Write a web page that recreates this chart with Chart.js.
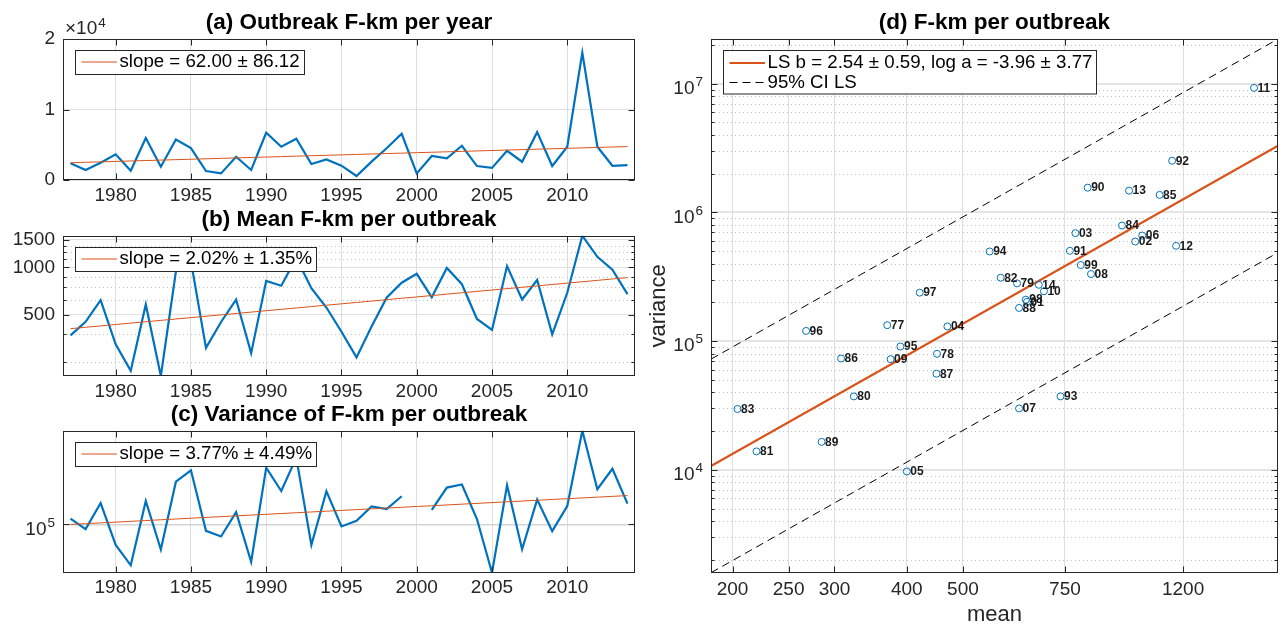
<!DOCTYPE html>
<html>
<head>
<meta charset="utf-8">
<script src="https://cdn.jsdelivr.net/npm/chart.js@4.4.1/dist/chart.umd.min.js"></script>
<style>
  html, body { margin: 0; padding: 0; background: #fff; }
  #wrap { position: relative; width: 1283px; height: 626px; overflow: hidden; background: #fff; }
  canvas { position: absolute; }
</style>
</head>
<body>
<div id="wrap">
  <canvas id="cA" width="640" height="205" style="left:0px;top:0px"></canvas>
  <canvas id="cB" width="640" height="200" style="left:0px;top:200px"></canvas>
  <canvas id="cC" width="640" height="226" style="left:0px;top:400px"></canvas>
  <canvas id="cD" width="643" height="626" style="left:640px;top:0px"></canvas>
</div>
<script>
// ---- data: tornado outbreak F-km statistics, 1977-2014 ----
const years = [1977, 1978, 1979, 1980, 1981, 1982, 1983, 1984, 1985, 1986,
               1987, 1988, 1989, 1990, 1991, 1992, 1993, 1994, 1995, 1996,
               1997, 1998, 1999, 2000, 2001, 2002, 2003, 2004, 2005, 2006,
               2007, 2008, 2009, 2010, 2011, 2012, 2013, 2014];

// total outbreak F-km in each year
const totalFkm = [2380, 1420, 2450, 3650, 1320, 5950, 1880, 5750, 4520, 1270,
                  940, 3300, 1420, 6700, 4720, 5850, 2260, 2920, 2030, 570,
                  2600, 4500, 6560, 940, 3400, 3070, 4860, 1980, 1720, 4140,
                  2590, 6790, 1980, 4720, 18060, 4720, 2020, 2120];

// mean F-km per outbreak in each year
const meanFkm = [370, 451, 620, 324, 220, 581, 204, 941, 1093, 308,
                 450, 625, 285, 821, 765, 1149, 737, 556, 390, 268,
                 421, 642, 799, 910, 645, 992, 782, 470, 400, 1020,
                 625, 832, 375, 690, 1591, 1167, 968, 676];

// variance of F-km per outbreak (undefined in 2000)
const varFkm = [1.33e5, 7.97e4, 2.81e5, 3.72e4, 1.39e4, 3.11e5, 2.97e4, 7.9e5, 1.367e6, 7.33e4,
                5.58e4, 1.81e5, 1.65e4, 1.556e6, 5.03e5, 2.52e6, 3.72e4, 4.97e5, 9.08e4, 1.2e5,
                2.38e5, 2.1e5, 3.9e5, null, 2.02e5, 5.94e5, 6.9e5, 1.3e5, 9.72e3, 6.61e5,
                3.0e4, 3.32e5, 7.24e4, 2.44e5, 9.27e6, 5.5e5, 1.476e6, 2.74e5];

// tick labels
const yearTicks = [1980, 1985, 1990, 1995, 2000, 2005, 2010];
const totalTicks = [0, 10000, 20000];
const meanTicks = [500, 1000, 1500];
const meanMinorTicks = [250, 375, 625, 750, 875, 1125, 1250, 1375];
const varExpTicksC = [5];
const meanTicksD = [200, 250, 300, 400, 500, 750, 1200];
const varExpTicksD = [4, 5, 6, 7];

// fitted trends
const slopeTotal = 62.00, slopeTotalErr = 86.12, totalTrend1977 = 2450;
const rateMean = 0.0202, rateMeanErr = 0.0135, meanTrend1977 = 408;
const rateVar = 0.0377, rateVarErr = 0.0449, varTrend1977 = 1.0e5;
// least squares fit  ln(variance) = log a + b ln(mean), with 95% band half-width (ln units)
const lsB = 2.54, lsBErr = 0.59, lsLogA = -3.96, lsLogAErr = 3.77, ciHalfLn = 1.91;

// ---- styling ----
const FONT = '"Liberation Sans", Arial, Helvetica, sans-serif';
const INK = '#262626';
const GRID = '#DFDFDF';
const MINOR_GRID = '#C4C4C4';
const BLUE = '#0072BD';
const RED = '#D95319';

function px(v) { return Math.round(v) + 0.5; }
function strokeLine(ctx, x1, y1, x2, y2) {
  ctx.beginPath(); ctx.moveTo(x1, y1); ctx.lineTo(x2, y2); ctx.stroke();
}

// "10" with a raised exponent, right aligned at rightX and centred on y
function drawPowerLabel(ctx, rightX, y, exp) {
  ctx.save();
  ctx.fillStyle = INK;
  ctx.textAlign = 'left';
  ctx.textBaseline = 'alphabetic';
  ctx.font = '13.5px ' + FONT;
  const ew = ctx.measureText(String(exp)).width;
  ctx.font = '19px ' + FONT;
  const bw = ctx.measureText('10').width;
  const x0 = rightX - ew - bw - 1;
  ctx.fillText('10', x0, y + 10.3);
  ctx.font = '13.5px ' + FONT;
  ctx.fillText(String(exp), x0 + bw + 1, y + 2.3);
  ctx.restore();
}

function drawLegend(ctx, area, lg) {
  ctx.save();
  ctx.font = lg.size + 'px ' + FONT;
  let tw = 0;
  lg.rows.forEach(r => { tw = Math.max(tw, ctx.measureText(r.text).width); });
  const x = Math.round(area.left + 12), y = Math.round(area.top + 11);
  const pitch = 19.5;
  const h = 24 + (lg.rows.length - 1) * pitch;
  const w = Math.round(44.5 + tw + 4);
  ctx.fillStyle = '#fff';
  ctx.fillRect(x, y, w, h);
  ctx.strokeStyle = INK; ctx.lineWidth = 1;
  ctx.strokeRect(x + 0.5, y + 0.5, w, h);
  lg.rows.forEach((r, i) => {
    const cy = y + 12 + (lg.rows.length > 1 ? 1 : 0) + i * pitch;
    ctx.strokeStyle = r.color; ctx.lineWidth = r.width;
    ctx.setLineDash(r.dash || []);
    strokeLine(ctx, x + 6.5, cy, x + 42, cy);
    ctx.setLineDash([]);
    ctx.fillStyle = '#000';
    ctx.textAlign = 'left'; ctx.textBaseline = 'middle';
    ctx.fillText(r.text, x + 44.5, cy);
  });
  ctx.restore();
}

// axes box, inward ticks, minor grid, title, legend
function makeFrame(p) {
  return {
    id: 'frame',
    beforeDatasetsDraw(chart) {
      const { ctx, chartArea: a } = chart;
      const ys = chart.scales.y;
      if (p.yMinor && p.yMinor.length) {
        ctx.save();
        ctx.strokeStyle = MINOR_GRID; ctx.lineWidth = 1; ctx.setLineDash([1, 3]);
        p.yMinor.forEach(v => {
          const y = px(ys.getPixelForValue(v));
          strokeLine(ctx, a.left, y, a.right, y);
        });
        ctx.restore();
      }
    },
    afterDatasetsDraw(chart) {
      if (p.pointLabels) p.pointLabels(chart);
    },
    afterDraw(chart) {
      const { ctx, chartArea: a } = chart;
      const xs = chart.scales.x, ys = chart.scales.y;
      ctx.save();
      ctx.strokeStyle = INK; ctx.lineWidth = 1;
      const L = Math.round(a.left) + 0.5, R = Math.round(a.right) - 0.5;
      const T = Math.round(a.top) + 0.5, B = Math.round(a.bottom) - 0.5;
      ctx.strokeRect(L, T, R - L, B - T);
      p.xTicks.forEach(v => {
        const x = px(xs.getPixelForValue(v));
        strokeLine(ctx, x, B, x, B - p.tick);
        strokeLine(ctx, x, T, x, T + p.tick);
      });
      p.yTicks.forEach(v => {
        const y = px(ys.getPixelForValue(v));
        strokeLine(ctx, L, y, L + p.tick, y);
        strokeLine(ctx, R, y, R - p.tick, y);
      });
      (p.yMinor || []).forEach(v => {
        const y = px(ys.getPixelForValue(v));
        strokeLine(ctx, L, y, L + p.minorTick, y);
        strokeLine(ctx, R, y, R - p.minorTick, y);
      });
      ctx.fillStyle = '#000';
      ctx.font = 'bold 22.5px ' + FONT;
      ctx.textAlign = 'center'; ctx.textBaseline = 'alphabetic';
      ctx.fillText(p.title, (a.left + a.right) / 2, a.top - 10);
      if (p.powerTicks) {
        p.powerTicks.forEach(e => drawPowerLabel(ctx, a.left - 8, ys.getPixelForValue(Math.pow(10, e)), e));
      }
      if (p.extra) p.extra(chart);
      drawLegend(ctx, a, p.legend);
      ctx.restore();
    }
  };
}

function yearAxis(h) {
  return {
    type: 'linear', bounds: 'data', min: 1976.5, max: 2014.5,
    afterBuildTicks: s => { s.ticks = yearTicks.map(v => ({ value: v })); },
    afterFit: s => { s.height = h; },
    ticks: { callback: v => String(v), font: { family: FONT, size: 19 }, color: INK,
             padding: 4, maxRotation: 0, autoSkip: false },
    grid: { color: GRID, lineWidth: 1, drawTicks: false },
    border: { display: false }
  };
}

const baseOptions = {
  responsive: false, maintainAspectRatio: false, animation: false, devicePixelRatio: 1,
  events: [],
  plugins: { legend: { display: false }, tooltip: { enabled: false }, title: { display: false } },
  elements: { line: { tension: 0 }, point: { radius: 0 } }
};

function xy(vals) { return years.map((yr, i) => ({ x: yr, y: vals[i] })); }

// ---- (a) total F-km per year ----
new Chart(document.getElementById('cA'), {
  type: 'line',
  data: {
    datasets: [
      { data: years.map(yr => ({ x: yr, y: totalTrend1977 + slopeTotal * (yr - 1977) })),
        borderColor: RED, borderWidth: 1, pointRadius: 0, order: 0 },
      { data: xy(totalFkm), borderColor: BLUE, borderWidth: 2.2, pointRadius: 0, order: 1 }
    ]
  },
  options: Object.assign({}, baseOptions, {
    layout: { padding: { top: 39, left: 0, right: 5, bottom: 0 } },
    scales: {
      x: yearAxis(25),
      y: {
        type: 'linear', bounds: 'data', min: 0, max: 20000,
        afterBuildTicks: s => { s.ticks = totalTicks.map(v => ({ value: v })); },
        afterFit: s => { s.width = 63; },
        ticks: { callback: v => String(v / 10000), font: { family: FONT, size: 19 }, color: INK, padding: 8 },
        grid: { color: GRID, lineWidth: 1, drawTicks: false },
        border: { display: false }
      }
    }
  }),
  plugins: [makeFrame({
    title: '(a) Outbreak F-km per year',
    xTicks: yearTicks, yTicks: totalTicks, tick: 6, minorTick: 3,
    legend: { size: 18.7, rows: [{ text: 'slope = ' + slopeTotal.toFixed(2) + ' \u00b1 ' + slopeTotalErr.toFixed(2), color: RED, width: 1 }] },
    extra(chart) {
      const { ctx, chartArea: a } = chart;
      ctx.save();
      ctx.fillStyle = INK; ctx.textAlign = 'left'; ctx.textBaseline = 'alphabetic';
      ctx.font = '19px ' + FONT;
      const w = ctx.measureText('\u00d710').width;
      ctx.fillText('\u00d710', a.left + 2, a.top - 5.5);
      ctx.font = '13.5px ' + FONT;
      ctx.fillText('4', a.left + 3 + w, a.top - 12.5);
      ctx.restore();
    }
  })]
});

// ---- (b) mean F-km per outbreak ----
new Chart(document.getElementById('cB'), {
  type: 'line',
  data: {
    datasets: [
      { data: years.map(yr => ({ x: yr, y: meanTrend1977 * Math.exp(rateMean * (yr - 1977)) })),
        borderColor: RED, borderWidth: 1, pointRadius: 0, order: 0 },
      { data: xy(meanFkm), borderColor: BLUE, borderWidth: 2.2, pointRadius: 0, order: 1 }
    ]
  },
  options: Object.assign({}, baseOptions, {
    layout: { padding: { top: 35.7, left: 0, right: 5, bottom: 0 } },
    scales: {
      x: yearAxis(24),
      y: {
        type: 'logarithmic', bounds: 'data', min: Math.min(...meanFkm), max: Math.max(...meanFkm),
        afterBuildTicks: s => { s.ticks = meanTicks.map(v => ({ value: v })); },
        afterFit: s => { s.width = 63; },
        ticks: { callback: v => String(v), font: { family: FONT, size: 19 }, color: INK, padding: 8 },
        grid: { color: GRID, lineWidth: 1, drawTicks: false },
        border: { display: false }
      }
    }
  }),
  plugins: [makeFrame({
    title: '(b) Mean F-km per outbreak',
    xTicks: yearTicks, yTicks: meanTicks, yMinor: meanMinorTicks, tick: 6, minorTick: 3,
    legend: { size: 18.7, rows: [{ text: 'slope = ' + (rateMean * 100).toFixed(2) + '% \u00b1 ' + (rateMeanErr * 100).toFixed(2) + '%', color: RED, width: 1 }] }
  })]
});

// ---- (c) variance of F-km per outbreak ----
const varDefined = varFkm.filter(v => v !== null);
new Chart(document.getElementById('cC'), {
  type: 'line',
  data: {
    datasets: [
      { data: years.map(yr => ({ x: yr, y: varTrend1977 * Math.exp(rateVar * (yr - 1977)) })),
        borderColor: RED, borderWidth: 1, pointRadius: 0, order: 0 },
      { data: xy(varFkm), borderColor: BLUE, borderWidth: 2.2, pointRadius: 0, spanGaps: false, order: 1 }
    ]
  },
  options: Object.assign({}, baseOptions, {
    layout: { padding: { top: 30.7, left: 0, right: 5, bottom: 0 } },
    scales: {
      x: yearAxis(53.3),
      y: {
        type: 'logarithmic', bounds: 'data', min: Math.min(...varDefined), max: Math.max(...varDefined),
        afterBuildTicks: s => { s.ticks = varExpTicksC.map(e => ({ value: Math.pow(10, e) })); },
        afterFit: s => { s.width = 63; },
        ticks: { display: false },
        grid: { color: '#D4D4D4', lineWidth: 1.5, drawTicks: false },
        border: { display: false }
      }
    }
  }),
  plugins: [makeFrame({
    title: '(c) Variance of F-km per outbreak',
    xTicks: yearTicks, yTicks: varExpTicksC.map(e => Math.pow(10, e)), powerTicks: varExpTicksC,
    tick: 6, minorTick: 3,
    legend: { size: 18.7, rows: [{ text: 'slope = ' + (rateVar * 100).toFixed(2) + '% \u00b1 ' + (rateVarErr * 100).toFixed(2) + '%', color: RED, width: 1 }] }
  })]
});

// ---- (d) variance against mean, per year ----
const scatterPts = [];
years.forEach((yr, i) => {
  if (varFkm[i] !== null) scatterPts.push({ x: meanFkm[i], y: varFkm[i], label: String(yr).slice(2) });
});
const meansD = scatterPts.map(p => p.x);
const xMinD = 0.9 * Math.min(...meansD);
const xMaxD = 1.1 * Math.max(...meansD);
const lsCurve = (x, shift) => Math.exp(lsLogA + shift) * Math.pow(x, lsB);
const yMinD = lsCurve(xMinD, -ciHalfLn);
const yMaxD = lsCurve(xMaxD, ciHalfLn);
const minorVarD = [];
for (let e = 3; e <= 7; e++) {
  for (let k = 2; k <= 9; k++) {
    const v = k * Math.pow(10, e);
    if (v > yMinD && v < yMaxD) minorVarD.push(v);
  }
}
const lineThrough = shift => [{ x: xMinD, y: lsCurve(xMinD, shift) }, { x: xMaxD, y: lsCurve(xMaxD, shift) }];

new Chart(document.getElementById('cD'), {
  type: 'scatter',
  data: {
    datasets: [
      { type: 'scatter', data: scatterPts, pointRadius: 3.5, pointBorderWidth: 1,
        pointBorderColor: BLUE, pointBackgroundColor: 'rgba(0,0,0,0)', order: 0 },
      { type: 'line', data: lineThrough(0), borderColor: RED, borderWidth: 2.2, pointRadius: 0, order: 1 },
      { type: 'line', data: lineThrough(ciHalfLn), borderColor: '#000', borderWidth: 1,
        borderDash: [8, 5], pointRadius: 0, order: 2 },
      { type: 'line', data: lineThrough(-ciHalfLn), borderColor: '#000', borderWidth: 1,
        borderDash: [8, 5], pointRadius: 0, order: 2 }
    ]
  },
  options: Object.assign({}, baseOptions, {
    layout: { padding: { top: 39, left: 0, right: 2, bottom: 0 } },
    scales: {
      x: {
        type: 'logarithmic', bounds: 'data', min: xMinD, max: xMaxD,
        afterBuildTicks: s => { s.ticks = meanTicksD.map(v => ({ value: v })); },
        afterFit: s => { s.height = 53.3; },
        ticks: { callback: v => String(v), font: { family: FONT, size: 19 }, color: INK,
                 padding: 6, maxRotation: 0, autoSkip: false },
        grid: { color: GRID, lineWidth: 1, drawTicks: false },
        border: { display: false }
      },
      y: {
        type: 'logarithmic', bounds: 'data', min: yMinD, max: yMaxD,
        afterBuildTicks: s => { s.ticks = varExpTicksD.map(e => ({ value: Math.pow(10, e) })); },
        afterFit: s => { s.width = 71; },
        ticks: { display: false },
        grid: { color: '#E4E4E4', lineWidth: 2, drawTicks: false },
        border: { display: false }
      }
    }
  }),
  plugins: [makeFrame({
    title: '(d) F-km per outbreak',
    xTicks: meanTicksD, yTicks: varExpTicksD.map(e => Math.pow(10, e)), yMinor: minorVarD,
    powerTicks: varExpTicksD, tick: 6, minorTick: 3,
    legend: { size: 18.7, rows: [
      { text: 'LS b = ' + lsB.toFixed(2) + ' \u00b1 ' + lsBErr.toFixed(2) + ', log a = ' + lsLogA.toFixed(2) + ' \u00b1 ' + lsLogAErr.toFixed(2),
        color: RED, width: 2.2 },
      { text: '95% CI LS', color: '#000', width: 1, dash: [8, 5] }
    ] },
    pointLabels(chart) {
      const { ctx } = chart;
      const meta = chart.getDatasetMeta(0);
      ctx.save();
      ctx.fillStyle = '#1a1a1a';
      ctx.font = 'bold 12px ' + FONT;
      ctx.textAlign = 'left'; ctx.textBaseline = 'middle';
      meta.data.forEach((el, i) => { ctx.fillText(scatterPts[i].label, el.x + 3.5, el.y + 0.5); });
      ctx.restore();
    },
    extra(chart) {
      const { ctx, chartArea: a } = chart;
      ctx.save();
      ctx.fillStyle = INK;
      ctx.font = '22px ' + FONT;
      ctx.textAlign = 'center'; ctx.textBaseline = 'alphabetic';
      ctx.fillText('mean', (a.left + a.right) / 2, a.bottom + 48);
      ctx.translate(a.left - 46, (a.top + a.bottom) / 2);
      ctx.rotate(-Math.PI / 2);
      ctx.fillText('variance', 0, 0);
      ctx.restore();
    }
  })]
});
</script>
</body>
</html>
